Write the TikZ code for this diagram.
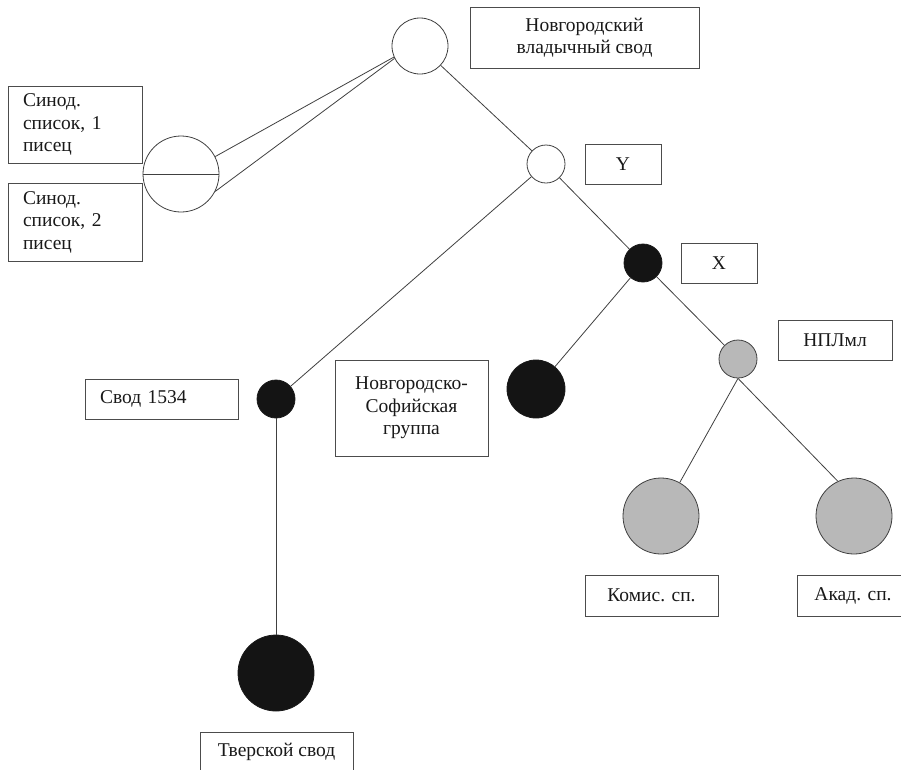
\documentclass[tikz,border=0pt]{standalone}
\usepackage{fontspec}
\setmainfont{Liberation Serif}
\begin{document}
\begin{tikzpicture}[x=1pt,y=-1pt,
  lbl/.style={draw=black!70, line width=0.7pt, rectangle, inner sep=0pt,
    font=\fontsize{19.5}{22.5}\selectfont, text=black!90, align=center},
  lblleft/.style={lbl, align=left},
  link/.style={draw=black!75, line width=0.8pt},
  opencirc/.style={circle, draw=black!75, line width=0.8pt, fill=white, inner sep=0pt},
  blackcirc/.style={circle, draw=black!90, line width=0.8pt, fill=black!92, inner sep=0pt},
  greycirc/.style={circle, draw=black!75, line width=0.8pt, fill=black!28, inner sep=0pt}]
\useasboundingbox (0,0) rectangle (901,769);
\clip (0,0) rectangle (901,769);
\fill[white] (0,0) rectangle (901,769);

% circles
\node[opencirc, minimum size=56pt] (top) at (420,46) {};
\node[opencirc, minimum size=76pt] (syn) at (181,174) {};
\node[opencirc, minimum size=38pt] (Y) at (546,164) {};
\node[blackcirc, minimum size=38pt] (X) at (643,263) {};
\node[blackcirc, minimum size=38pt] (svod) at (276,399) {};
\node[blackcirc, minimum size=76pt] (tver) at (276,673) {};
\node[blackcirc, minimum size=58pt] (blk) at (536,389) {};
\node[greycirc, minimum size=38pt] (npl) at (738,359) {};
\node[greycirc, minimum size=76pt] (komis) at (661,516) {};
\node[greycirc, minimum size=76pt] (akad) at (854,516) {};

% connectors
\draw[link] (syn.west) -- (syn.east);
\draw[link] (syn.27) -- (top.203);
\draw[link] (syn.-27) -- (top.206);
\draw[link] (top) -- (Y);
\draw[link] (Y) -- (svod);
\draw[link] (Y) -- (X);
\draw[link] (X) -- (blk);
\draw[link] (X) -- (npl);
\draw[link] (svod) -- (tver);
\draw[link] (npl.south) -- (komis);
\draw[link] (npl.south) -- (akad.115);

% labels
\node[lbl, minimum width=229pt, minimum height=61pt] (ltop) at (584.5,37.5) {Новгородский\\владычный свод};
\node[lblleft, text width=104pt, inner xsep=15pt, minimum height=77pt] (lsyn1) at (75,124.5) {Синод.\\список, 1\\писец};
\node[lblleft, text width=104pt, inner xsep=15pt, minimum height=78pt] (lsyn2) at (75,222) {Синод.\\список, 2\\писец};
\node[lbl, minimum width=76pt, minimum height=40pt] (lY) at (623,164) {Y};
\node[lbl, minimum width=76pt, minimum height=40pt] (lX) at (719,263) {X};
\node[lblleft, text width=123pt, inner xsep=15pt, minimum height=40pt] (lsvod) at (161.5,399) {Свод 1534};
\node[lbl, minimum width=153pt, minimum height=96pt] (lnsg) at (411.5,408) {Новгородско-\\Софийская\\группа};
\node[lbl, minimum width=114pt, minimum height=40pt] (lnpl) at (835,340) {НПЛмл};
\node[lbl, minimum width=133pt, minimum height=41pt] (lkomis) at (651.5,595.5) {Комис. сп.};
\node[lbl, minimum width=112pt, minimum height=41pt] (lakad) at (853,595.5) {Акад. сп.};
\node[lbl, minimum width=153pt, minimum height=40pt] (ltver) at (276.5,752) {Тверской свод};
\end{tikzpicture}
\end{document}
